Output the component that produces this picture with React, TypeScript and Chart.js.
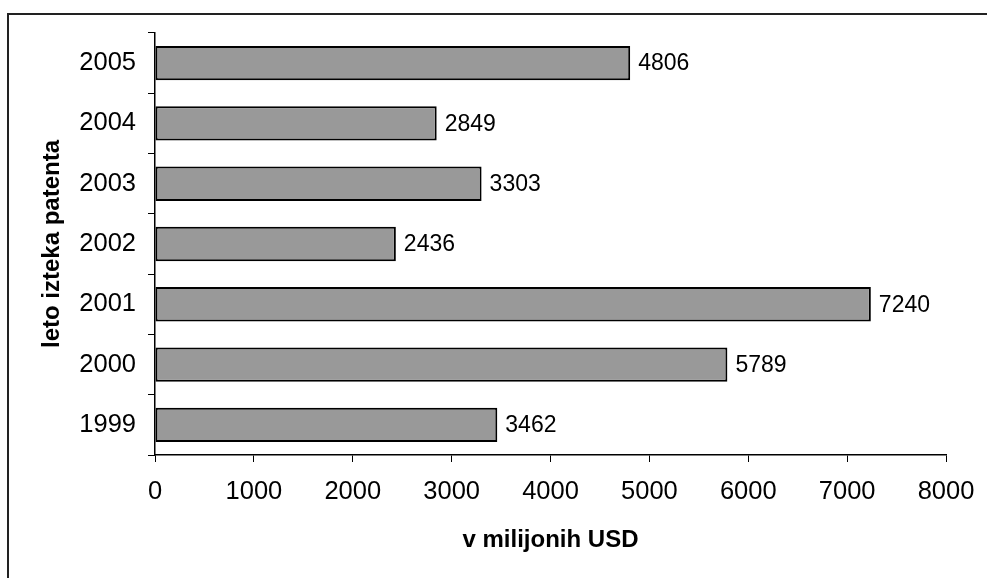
import React, { useEffect, useRef } from "react";
import { Chart, registerables } from "chart.js";

Chart.register(...registerables);

const years = ["2005", "2004", "2003", "2002", "2001", "2000", "1999"];
const values = [4806, 2849, 3303, 2436, 7240, 5789, 3462];
const xMin = 0;
const xMax = 8000;
const xStep = 1000;
const xTitle = "v milijonih USD";
const yTitle = "leto izteka patenta";

const FONT = "'Liberation Sans', Arial, Helvetica, sans-serif";

const valueLabels = {
  id: "valueLabels",
  afterDatasetsDraw(chart: any) {
    const ctx = chart.ctx;
    const meta = chart.getDatasetMeta(0);
    ctx.save();
    ctx.font = `23px ${FONT}`;
    ctx.fillStyle = "#000";
    ctx.textAlign = "left";
    ctx.textBaseline = "middle";
    meta.data.forEach((bar: any, i: number) => {
      const v = chart.data.datasets[0].data[i];
      ctx.fillText(String(v), bar.x + 8, bar.y + 1);
    });
    ctx.restore();
  },
};

export default function App() {
  const ref = useRef<HTMLCanvasElement | null>(null);
  useEffect(() => {
    if (!ref.current) return;
    const chart = new Chart(ref.current, {
      type: "bar",
      data: {
        labels: years,
        datasets: [
          {
            data: values,
            backgroundColor: "#999999",
            borderColor: "#000000",
            borderWidth: 2,
            borderSkipped: false,
            barPercentage: 0.57,
            categoryPercentage: 1,
          },
        ],
      },
      options: {
        indexAxis: "y",
        responsive: false,
        animation: false,
        devicePixelRatio: 1,
        layout: { padding: { left: 0, top: 33, right: 41, bottom: 0 } },
        plugins: {
          legend: { display: false },
          tooltip: { enabled: false },
        },
        scales: {
          x: {
            type: "linear",
            min: xMin,
            max: xMax,
            ticks: {
              stepSize: xStep,
              color: "#000",
              padding: 15,
              font: { family: FONT, size: 25.5 },
              callback: (v: any) => String(v),
            },
            grid: {
              drawOnChartArea: false,
              drawTicks: true,
              tickLength: 7,
              color: "#000",
            },
            border: { display: true, color: "#000", width: 1.5 },
            title: {
              display: true,
              text: xTitle,
              color: "#000",
              font: { family: FONT, size: 24, weight: "bold" },
              padding: { top: 0, bottom: 23.5 },
            },
            afterFit(scale: any) {
              scale.height = 123;
              scale.paddingRight = 0;
              scale.paddingLeft = 0;
            },
          },
          y: {
            type: "category",
            ticks: {
              color: "#000",
              padding: 12,
              font: { family: FONT, size: 25.5 },
            },
            grid: {
              offset: true,
              drawOnChartArea: false,
              drawTicks: true,
              tickLength: 7,
              color: "#000",
            },
            border: { display: true, color: "#000", width: 1.5 },
            title: {
              display: true,
              text: yTitle,
              color: "#000",
              font: { family: FONT, size: 24, weight: "bold" },
              padding: { top: 37.5, bottom: 0 },
            },
            afterFit(scale: any) {
              scale.width = 155;
            },
          },
        },
      },
      plugins: [valueLabels],
    } as any);
    return () => chart.destroy();
  }, []);

  return (
    <div
      style={{
        position: "fixed",
        left: 0,
        top: 0,
        width: 987,
        height: 578,
        overflow: "hidden",
        background: "#fff",
      }}
    >
      <div
        style={{
          position: "absolute",
          left: 7,
          top: 13,
          width: 2000,
          height: 2000,
          borderTop: "2px solid #222",
          borderLeft: "2px solid #222",
        }}
      />
      <canvas
        ref={ref}
        width={987}
        height={578}
        style={{ position: "absolute", left: 0, top: 0, width: 987, height: 578 }}
      />
    </div>
  );
}
